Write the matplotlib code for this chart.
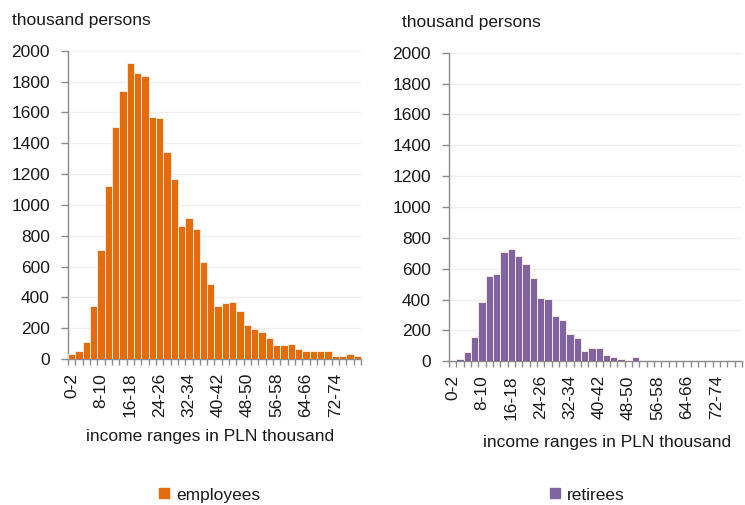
import numpy as np
import matplotlib
matplotlib.use('Agg')
import matplotlib.pyplot as plt
from matplotlib.lines import Line2D

plt.rcParams['font.family'] = ['Liberation Sans', 'DejaVu Sans']

# income ranges, 2 thousand PLN each
income_ranges = [f'{lo}-{lo + 2}' for lo in range(0, 80, 2)]
shown_ranges = ['0-2', '8-10', '16-18', '24-26', '32-34', '40-42', '48-50', '56-58', '64-66', '72-74']

# thousand persons in each range
employees = [30, 55, 112, 346, 705, 1120, 1503, 1738, 1920, 1855,
             1836, 1570, 1561, 1345, 1168, 860, 912, 845, 630, 486,
             346, 361, 370, 311, 220, 195, 177, 136, 88, 88,
             97, 62, 53, 53, 53, 53, 20, 20, 30, 20]
retirees = [0, 13, 60, 158, 385, 551, 568, 708, 726, 685,
            633, 542, 410, 402, 296, 268, 175, 151, 69, 84,
            84, 43, 26, 17, 11, 26, 0, 0, 11, 0,
            0, 0, 0, 0, 0, 0, 11, 0, 0, 0]

orange = '#e46c0a'
purple = '#8064a2'
axis_grey = '#8c8c8c'
text_col = '#1a1a1a'
fs = 12.5

W, H = 745, 505
fig = plt.figure(figsize=(W / 100, H / 100), dpi=100)


def panel(rect, values, colour):
    ax = fig.add_axes(rect)
    x = np.arange(len(values))
    ax.bar(x, values, width=1.0, color=colour, edgecolor='#fbe9df', linewidth=0.7, zorder=3)
    ax.set_xlim(-0.5, len(values) - 0.5)
    ax.set_ylim(0, 2000)
    ax.set_yticks(range(0, 2001, 200))
    ax.grid(axis='y', color='#efefef', linewidth=1, zorder=0)
    for s in ['top', 'right']:
        ax.spines[s].set_visible(False)
    for s in ['left', 'bottom']:
        ax.spines[s].set_color(axis_grey)
        ax.spines[s].set_linewidth(1)
    pos = [income_ranges.index(r) for r in shown_ranges]
    ax.set_xticks(pos)
    ax.set_xticklabels(shown_ranges, rotation=90)
    ax.set_xticks(np.arange(len(values) + 1) - 0.5, minor=True)
    ax.tick_params(axis='x', which='major', length=0, pad=10, labelsize=fs, labelcolor=text_col)
    ax.tick_params(axis='x', which='minor', length=4, width=1, color=axis_grey)
    ax.tick_params(axis='y', length=5, width=1, color=axis_grey, pad=8,
                   labelsize=fs, labelcolor=text_col)
    return ax


ax1 = panel([68 / W, 1 - 359 / H, 293 / W, 308.3 / H], employees, orange)
ax2 = panel([449 / W, 1 - 361.3 / H, 293 / W, 308.6 / H], retirees, purple)

fig.text(12 / W, 1 - 21 / H, 'thousand persons', ha='left', va='center', fontsize=fs, color=text_col)
fig.text(402 / W, 1 - 22 / H, 'thousand persons', ha='left', va='center', fontsize=fs, color=text_col)
fig.text(210 / W, 1 - 437 / H, 'income ranges in PLN thousand', ha='center', va='center',
         fontsize=fs, color=text_col)
fig.text(607 / W, 1 - 442 / H, 'income ranges in PLN thousand', ha='center', va='center',
         fontsize=fs, color=text_col)

for name, colour, cx in [('employees', orange, 210), ('retirees', purple, 587)]:
    h = Line2D([], [], marker='s', linestyle='none', markersize=6.5, color=colour)
    fig.legend([h], [name], loc='center', bbox_to_anchor=(cx / W, 1 - 495 / H),
               frameon=False, fontsize=fs, handlelength=0.6, handletextpad=0.4,
               borderaxespad=0, labelcolor=text_col)

fig.savefig('out.png', dpi=100)
